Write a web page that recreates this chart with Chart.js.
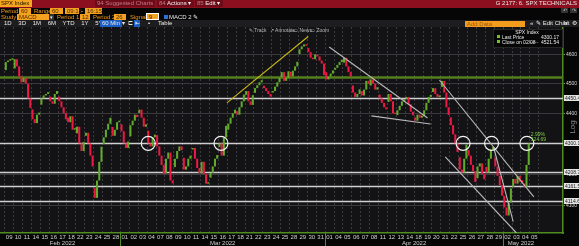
<!DOCTYPE html>
<html>
<head>
<meta charset="utf-8">
<script src="https://cdn.jsdelivr.net/npm/chart.js@4.4.0/dist/chart.umd.min.js"></script>
<style>
  html, body { margin: 0; padding: 0; background: #000; overflow: hidden; }
  #wrap { position: relative; width: 579px; height: 246px; font-family: "Liberation Sans", Arial, sans-serif; }
  #chart { position: absolute; left: 0; top: 0; }
  .t { position: absolute; font-size: 6px; line-height: 7px; height: 7px; white-space: nowrap; }
  .o { color: #f39c1e; }
  .box { background: #f4a11f; color: #4a2a00; padding: 0 2px; }
  .w { color: #e8e8e8; }
  .g { color: #b8b8b8; }
</style>
</head>
<body>
<div id="wrap">
  <canvas id="chart" width="579" height="246"></canvas>

  <!-- title bar -->
  <div class="t" style="left:0;top:0;width:579px;height:8px;background:#8c0f1f;"></div>
  <div class="t" style="left:0;top:0;width:31px;height:7px;background:#f5a51e;color:#1a1000;padding-left:1px;">SPX Index</div>
  <div class="t" style="left:95px;top:0;width:58px;height:7px;background:#6e0b18;color:#c07a84;padding-left:2px;">94 Suggested Charts</div>
  <div class="t" style="left:157px;top:0;width:35px;height:7px;background:#6e0b18;color:#f2f2f2;padding-left:2px;"><span style="color:#c07a84">84</span> Actions ▾</div>
  <div class="t" style="left:195px;top:0;width:26px;height:7px;background:#6e0b18;color:#f2f2f2;padding-left:2px;"><span style="color:#c07a84">85</span> Edit ▾</div>
  <div class="t w" style="right:2px;top:0;">G 2177: 6. SPX TECHNICALS</div>

  <!-- row 2 -->
  <div class="t o" style="left:1px;top:8px;">Period</div>
  <div class="t box" style="left:19px;top:8px;width:8px;height:6px;">60</div>
  <div class="t o" style="left:34px;top:8px;">Range</div>
  <div class="t box" style="left:50px;top:8px;width:9px;height:6px;">60</div>
  <div class="t box" style="left:65px;top:8px;width:10px;height:6px;">09:15</div>
  <div class="t w" style="left:81px;top:8px;">-</div>
  <div class="t box" style="left:85px;top:8px;width:13px;height:6px;">16:15</div>
  <div class="t g" style="left:561px;top:8px;width:7px;height:5px;background:#333;font-size:5px;line-height:5px;text-align:center;">↶</div>
  <div class="t g" style="left:570px;top:8px;width:7px;height:5px;background:#333;font-size:5px;line-height:5px;text-align:center;">↷</div>

  <!-- row 3 -->
  <div class="t o" style="left:1px;top:14px;">Study</div>
  <div class="t box" style="left:17px;top:14px;width:28px;height:6px;">MACD</div>
  <div class="t w" style="left:49px;top:14px;width:5px;height:6px;background:#333;text-align:center;font-size:5px;">▾</div>
  <div class="t o" style="left:57px;top:14px;">Period 1</div>
  <div class="t box" style="left:80px;top:14px;width:6px;height:6px;">12</div>
  <div class="t o" style="left:93px;top:14px;">Period 2</div>
  <div class="t box" style="left:114px;top:14px;width:8px;height:6px;">26</div>
  <div class="t o" style="left:130px;top:14px;">Signal</div>
  <div class="t box" style="left:147px;top:14px;width:7px;height:5px;outline:1px solid #fff;">9</div>
  <div class="t" style="left:164px;top:15px;width:4px;height:4px;background:#2a6fd6;"></div>
  <div class="t w" style="left:169px;top:14px;">MACD 2</div>
  <div class="t w" style="left:193px;top:14px;">✎</div>

  <!-- row 4 -->
  <div class="t" style="left:0;top:20px;width:579px;height:7px;background:#1d1d1f;"></div>
  <div class="t w" style="left:4px;top:20px;word-spacing:5px;">1D 3D 1M 6M YTD 1Y 5Y Max</div>
  <div class="t w" style="left:100px;top:20px;width:20px;background:#1c5fc4;padding-left:2px;">60 Min ▾</div>
  <div class="t w" style="left:128px;top:20px;">⊏</div>
  <div class="t w" style="left:134px;top:20px;width:6px;background:#1c5fc4;text-align:center;">⇤</div>
  <div class="t w" style="left:148px;top:20px;">•</div>
  <div class="t w" style="left:158px;top:20px;">Table</div>
  <div class="t" style="left:465px;top:21px;width:58px;height:6px;background:#f39c1e;color:#9a5a10;padding-left:2px;line-height:6px;">Add Data</div>
  <div class="t w" style="left:530px;top:20px;">«</div>
  <div class="t w" style="left:536px;top:20px;">✎ Edit Chart</div>
  <div class="t w" style="left:563px;top:20px;">⇲</div>
  <div class="t w" style="left:572px;top:20px;">⚙</div>

  <!-- chart tools row -->
  <div class="t g" style="left:249px;top:27px;font-size:5px;">✎ Track</div>
  <div class="t g" style="left:270px;top:27px;font-size:5px;">↗ Annotate</div>
  <div class="t g" style="left:293px;top:27px;font-size:5px;">▭ News</div>
  <div class="t g" style="left:310px;top:27px;font-size:5px;">▭ Zoom</div>

  <!-- legend -->
  <div class="t" style="left:493px;top:29px;width:68px;height:17px;background:#060606;border:1px solid #262626;"></div>
  <div class="t w" style="left:493px;top:29px;width:68px;text-align:center;font-size:5px;">SPX Index</div>
  <div class="t" style="left:497px;top:35px;width:3px;height:3px;background:#6cc52a;"></div>
  <div class="t w" style="left:502px;top:34px;font-size:5px;">Last Price</div>
  <div class="t w" style="left:541px;top:34px;font-size:5px;">4300.17</div>
  <div class="t" style="left:497px;top:40px;width:3px;height:3px;background:#6cc52a;"></div>
  <div class="t w" style="left:502px;top:39px;font-size:5px;">Close on 02/08</div>
  <div class="t g" style="left:530px;top:39px;font-size:5px;">-----</div>
  <div class="t w" style="left:541px;top:39px;font-size:5px;">4521.54</div>
</div>

<script>
// trading days on the axis (Feb 9 .. May 5, 2022)
const dayLabels = ['09','10','11','14','15','16','17','18','22','23','24','25','28',
  '01','02','03','04','07','08','09','10','11','14','15','16','17','18','21','22','23','24','25','28','29','30','31',
  '01','04','05','06','07','08','11','12','13','14','18','19','20','21','22','25','26','27','28','29',
  '02','03','04','05'];
const monthNames = ['Feb 2022', 'Mar 2022', 'Apr 2022', 'May 2022'];
const monthStart = [0, 13, 36, 56];

// session open for each day with data
const dayOpen = [4547, 4553, 4506, 4413, 4429, 4456, 4456, 4385, 4333, 4325, 4156, 4298, 4354,
  4363, 4323, 4401, 4342, 4327, 4203, 4223, 4253, 4280, 4203, 4189, 4288, 4345, 4407, 4462, 4469,
  4493, 4470, 4523, 4541, 4603, 4624, 4599,
  4540, 4548, 4573, 4494, 4475, 4494, 4463, 4438, 4394, 4449, 4386, 4391, 4472, 4489, 4386, 4255,
  4278, 4187, 4223, 4254,
  4131, 4160, 4181];

// intraday closes, 4 bars per session
const barCloses = [
  [4575, 4580, 4583, 4587], [4585, 4560, 4525, 4504], [4520, 4500, 4450, 4418], [4380, 4367, 4395, 4402],
  [4450, 4460, 4465, 4471], [4440, 4432, 4465, 4475], [4440, 4420, 4400, 4380], [4370, 4390, 4345, 4349],
  [4355, 4300, 4275, 4305], [4335, 4300, 4260, 4225], [4125, 4180, 4240, 4289], [4320, 4345, 4365, 4385],
  [4325, 4345, 4370, 4374],
  [4340, 4300, 4285, 4306], [4360, 4375, 4395, 4387], [4412, 4385, 4355, 4363], [4300, 4290, 4320, 4329],
  [4290, 4260, 4230, 4201], [4250, 4270, 4180, 4171], [4250, 4275, 4290, 4278], [4215, 4225, 4250, 4260],
  [4285, 4250, 4220, 4204], [4240, 4200, 4170, 4173], [4205, 4225, 4250, 4262], [4300, 4260, 4320, 4358],
  [4365, 4385, 4400, 4412], [4395, 4420, 4440, 4463], [4475, 4440, 4428, 4461], [4485, 4495, 4505, 4512],
  [4485, 4475, 4465, 4456], [4475, 4490, 4505, 4520], [4540, 4510, 4520, 4543], [4525, 4545, 4560, 4576],
  [4620, 4630, 4637, 4632], [4610, 4590, 4585, 4602], [4595, 4580, 4570, 4530],
  [4515, 4525, 4535, 4546], [4555, 4565, 4575, 4583], [4590, 4560, 4540, 4525], [4470, 4455, 4465, 4481],
  [4460, 4480, 4510, 4500], [4515, 4500, 4480, 4488], [4450, 4435, 4420, 4413], [4465, 4440, 4400, 4397],
  [4410, 4425, 4440, 4447], [4455, 4430, 4405, 4393], [4375, 4395, 4385, 4392], [4410, 4435, 4455, 4462],
  [4485, 4465, 4455, 4459], [4510, 4470, 4420, 4394], [4360, 4330, 4300, 4272], [4215, 4205, 4250, 4296],
  [4260, 4230, 4210, 4175], [4225, 4235, 4200, 4184], [4205, 4250, 4280, 4288], [4225, 4195, 4165, 4132],
  [4095, 4070, 4110, 4155], [4185, 4170, 4195, 4175], [4170, 4160, 4230, 4300]
];

const prevClose = 4521.54;
const lastPrice = 4300.17;
const levelValues = [4450.46, 4300.17, 4208.75, 4161.54, 4114.65];
const yTicks = [4100, 4200, 4300, 4400, 4500, 4600];
const changeText = ['2.99%', '124.69'];

// drawn lines: [dayFrom, priceFrom, dayTo, priceTo]
const yellowLines = [[24.97, 4435, 34.1, 4665]];
const greyLines = [
  [36.46, 4628, 47.51, 4384],
  [41.2, 4391, 47.85, 4364],
  [48.84, 4513, 59.45, 4128],
  [49.5, 4256, 57.5, 4016],
  [54.92, 4289, 57.13, 4051]
];
const circleDays = [16.13, 24.3, 51.5, 54.7, 58.67];

var candles = [];
var colours = [];
barCloses.map(function(day, d) {
    let open = dayOpen[d];
    day.map(function(close, k) {
        candles.push({x: d + (k + 0.5) / day.length, y: [open, close]});
        colours.push(close >= open ? '#62aa2c' : '#ea1a42');
        open = close;
    });
});

const overlay = {
    id: 'overlay',
    beforeDraw(chart) {
        const {ctx, chartArea: a} = chart;
        ctx.save();
        ctx.fillStyle = '#060606';
        ctx.fillRect(0, 0, chart.width, chart.height);
        ctx.fillStyle = '#131316';
        ctx.fillRect(a.left, a.top, a.right - a.left, a.bottom - a.top);
        ctx.restore();
    },
    beforeDatasetsDraw(chart) {
        const {ctx, chartArea: a, scales: {y}} = chart;
        ctx.save();
        ctx.strokeStyle = '#cfcfcf';
        ctx.lineWidth = 1.3;
        levelValues.map(function(v) {
            let py = Math.round(y.getPixelForValue(v)) + 0.5;
            ctx.beginPath(); ctx.moveTo(a.left, py); ctx.lineTo(a.right, py); ctx.stroke();
        });
        ctx.strokeStyle = '#557f1d';
        ctx.lineWidth = 2.5;
        let py = y.getPixelForValue(prevClose);
        ctx.beginPath(); ctx.moveTo(a.left, py); ctx.lineTo(a.right, py); ctx.stroke();
        ctx.restore();
    },
    afterDatasetsDraw(chart) {
        const {ctx, chartArea: a, scales: {x, y}} = chart;
        ctx.save();
        ctx.beginPath();
        ctx.rect(a.left, a.top, a.right - a.left, a.bottom - a.top);
        ctx.clip();
        function seg(l) {
            ctx.beginPath();
            ctx.moveTo(x.getPixelForValue(l[0]), y.getPixelForValue(l[1]));
            ctx.lineTo(x.getPixelForValue(l[2]), y.getPixelForValue(l[3]));
            ctx.stroke();
        }
        ctx.lineWidth = 1.1;
        ctx.strokeStyle = '#cbb818';
        yellowLines.map(seg);
        ctx.strokeStyle = '#b9b9b9';
        greyLines.map(seg);
        ctx.strokeStyle = '#f2f2f2';
        ctx.lineWidth = 1.2;
        circleDays.map(function(d) {
            ctx.beginPath();
            ctx.arc(x.getPixelForValue(d), y.getPixelForValue(lastPrice), 7, 0, Math.PI * 2);
            ctx.stroke();
        });
        ctx.fillStyle = '#7fcf45';
        ctx.font = '5px "Liberation Sans", Arial';
        ctx.textBaseline = 'middle';
        let lx = x.getPixelForValue(barCloses.length) + 1;
        let ly = y.getPixelForValue(lastPrice);
        ctx.fillText(changeText[0], lx, ly - 9);
        ctx.fillText(changeText[1], lx, ly - 4);
        ctx.restore();
    },
    afterDraw(chart) {
        const {ctx, chartArea: a, scales: {x, y}} = chart;
        ctx.save();
        ctx.font = '5px "Liberation Sans", Arial';
        ctx.textBaseline = 'middle';
        levelValues.map(function(v) {
            let py = Math.round(y.getPixelForValue(v));
            ctx.fillStyle = '#e4e4e4';
            ctx.fillRect(a.right + 1, py - 3, chart.width - a.right, 6);
            ctx.fillStyle = '#1a1a1a';
            ctx.fillText(v.toFixed(2), a.right + 2, py + 0.5);
        });
        // month separators and names
        ctx.strokeStyle = '#4f8c21';
        ctx.lineWidth = 1;
        ctx.fillStyle = '#cfcfcf';
        ctx.font = '6px "Liberation Sans", Arial';
        ctx.textAlign = 'center';
        monthNames.map(function(name, i) {
            let s = monthStart[i];
            let e = i + 1 < monthStart.length ? monthStart[i + 1] : dayLabels.length;
            if (i > 0) {
                let px = Math.round(x.getPixelForValue(s)) + 0.5;
                ctx.beginPath(); ctx.moveTo(px, a.bottom); ctx.lineTo(px, chart.height); ctx.stroke();
            }
            ctx.fillText(name, x.getPixelForValue((s + e) / 2), a.bottom + 10);
        });
        // Log tag
        ctx.translate(573, 127);
        ctx.rotate(-Math.PI / 2);
        ctx.fillStyle = '#8a8a8a';
        ctx.font = '8px "Liberation Sans", Arial';
        ctx.fillText('Log', 0, 0);
        ctx.restore();
    }
};

const config = {
    type: 'bar',
    data: {
        datasets: [{
            label: 'SPX Index',
            data: candles,
            backgroundColor: colours,
            borderWidth: 0,
            minBarLength: 1.5,
            barPercentage: 1,
            categoryPercentage: 0.92
        }]
    },
    options: {
        responsive: false,
        animation: false,
        devicePixelRatio: 1,
        layout: { padding: { top: 27, left: 0, right: 0, bottom: 0 } },
        plugins: { legend: { display: false }, tooltip: { enabled: false } },
        scales: {
            x: {
                type: 'linear',
                min: 0,
                max: 62.2,
                afterBuildTicks: function(scale) {
                    scale.ticks = dayLabels.map(function(l, i) { return {value: i + 0.5}; });
                },
                afterFit: function(scale) { scale.height = 13; },
                ticks: {
                    autoSkip: false,
                    maxRotation: 0,
                    padding: 1,
                    color: '#d0d0d0',
                    font: { size: 6, family: '"Liberation Sans", Arial' },
                    callback: function(v, i) { return dayLabels[i]; }
                },
                grid: { color: '#3c3c40', lineWidth: 1, drawTicks: false },
                border: { display: true, color: '#4f8c21', width: 1.5, dash: [2, 2] }
            },
            y: {
                type: 'logarithmic',
                position: 'right',
                min: 4016,
                max: 4699,
                afterBuildTicks: function(scale) {
                    scale.ticks = yTicks.map(function(v) { return {value: v}; });
                },
                afterFit: function(scale) { scale.width = 16; },
                ticks: {
                    padding: 1,
                    color: '#d8d8d8',
                    font: { size: 5, family: '"Liberation Sans", Arial' },
                    callback: function(v) { return v; }
                },
                grid: { color: '#3a3a3e', lineWidth: 1, tickLength: 2, tickColor: '#5fa62b' },
                border: { display: true, color: '#4f8c21', width: 1.5 }
            }
        }
    },
    plugins: [overlay]
};

new Chart(document.getElementById('chart'), config);
</script>
</body>
</html>
